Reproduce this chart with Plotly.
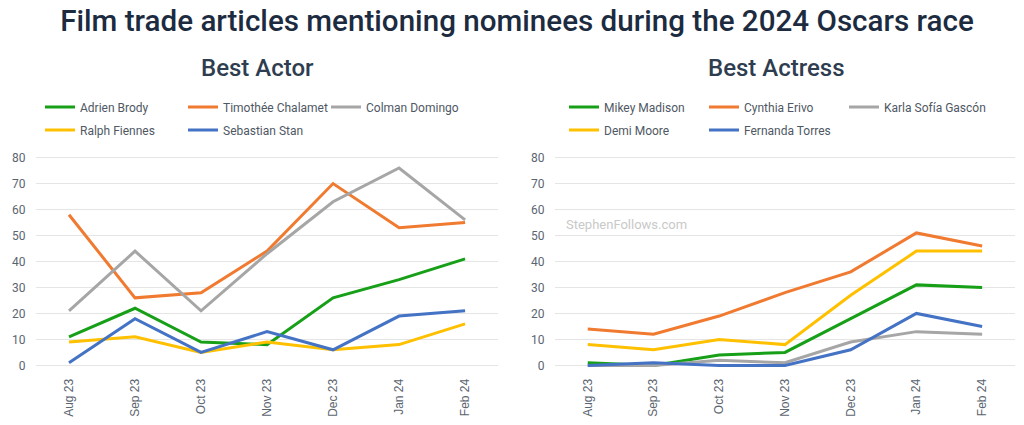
import plotly.graph_objects as go

months = ["Aug 23", "Sep 23", "Oct 23", "Nov 23", "Dec 23", "Jan 24", "Feb 24"]

# Best Actor
actor_names = ["Adrien Brody", "Timothée Chalamet", "Colman Domingo", "Ralph Fiennes", "Sebastian Stan"]
brody = [11, 22, 9, 8, 26, 33, 41]
chalamet = [58, 26, 28, 44, 70, 53, 55]
domingo = [21, 44, 21, 43, 63, 76, 56]
fiennes = [9, 11, 5, 9, 6, 8, 16]
stan = [1, 18, 5, 13, 6, 19, 21]

# Best Actress
actress_names = ["Mikey Madison", "Cynthia Erivo", "Karla Sofía Gascón", "Demi Moore", "Fernanda Torres"]
madison = [1, 0, 4, 5, 18, 31, 30]
erivo = [14, 12, 19, 28, 36, 51, 46]
gascon = [0, 0, 2, 1, 9, 13, 12]
moore = [8, 6, 10, 8, 27, 44, 44]
torres = [0, 1, 0, 0, 6, 20, 15]

colors = ["#17a017", "#f07a30", "#a6a6a6", "#ffc000", "#4472c4"]
y_ticks = [0, 10, 20, 30, 40, 50, 60, 70, 80]

actor_series = [brody, chalamet, domingo, fiennes, stan]
actress_series = [madison, erivo, gascon, moore, torres]

fig = go.Figure()

# legend assignment: first 3 entries in row 1, last 2 in row 2
left_legends = ["legend", "legend", "legend", "legend2", "legend2"]
right_legends = ["legend3", "legend3", "legend5", "legend4", "legend4"]

for name, vals, col, lg in zip(actor_names, actor_series, colors, left_legends):
    fig.add_trace(go.Scatter(x=months, y=vals, name=name, mode="lines",
                             line=dict(color=col, width=3), xaxis="x", yaxis="y",
                             legend=lg, hoverinfo="skip"))
for name, vals, col, lg in zip(actress_names, actress_series, colors, right_legends):
    fig.add_trace(go.Scatter(x=months, y=vals, name=name, mode="lines",
                             line=dict(color=col, width=3), xaxis="x2", yaxis="y2",
                             legend=lg, hoverinfo="skip"))

tick_font = dict(family="Roboto, Arial", size=12, color="#5b6570")
xtick_font = dict(family="Liberation Sans, Arial", size=12, color="#5b6570")
axis_common = dict(range=[-0.5, 6.5], type="category", showgrid=False, zeroline=False,
                   showline=False, tickangle=-90, tickfont=xtick_font,
                   ticks="outside", ticklen=5, tickcolor="rgba(0,0,0,0)", automargin=False)
yaxis_common = dict(range=[-1, 81], tickvals=y_ticks, showgrid=True, gridcolor="#e5e5e5",
                    gridwidth=1, zeroline=False, showline=False, tickfont=tick_font,
                    ticks="outside", ticklen=7, tickcolor="rgba(0,0,0,0)", automargin=False)

legend_font = dict(family="Roboto, Arial", size=12, color="#4f5864")
legend_common = dict(orientation="h", xref="container", yref="container",
                     xanchor="left", yanchor="middle",
                     font=legend_font,
                     bgcolor="rgba(0,0,0,0)", borderwidth=0, traceorder="normal",
                     itemclick=False, itemdoubleclick=False)

row1_y = 1 - 107 / 425
row2_y = 1 - 130 / 425

fig.update_layout(
    width=1024, height=425,
    margin=dict(l=36, r=9, t=155, b=57),
    paper_bgcolor="white", plot_bgcolor="white",
    title=dict(text="Film trade articles mentioning nominees during the 2024 Oscars race",
               x=517 / 1024, xref="container", xanchor="center",
               y=1 - 21 / 425, yref="container", yanchor="middle",
               font=dict(family="Roboto, Arial", size=29.6, color="#1c2b40", weight=500)),
    xaxis=dict(domain=[0, 0.472], anchor="y", **axis_common),
    yaxis=dict(anchor="x", **yaxis_common),
    xaxis2=dict(domain=[0.530, 1], anchor="y2", **axis_common),
    yaxis2=dict(anchor="x2", **yaxis_common),
    legend=dict(x=40 / 1024, y=row1_y, entrywidth=98, entrywidthmode="pixels", **legend_common),
    legend2=dict(x=40 / 1024, y=row2_y, entrywidth=98, entrywidthmode="pixels", **legend_common),
    legend3=dict(x=564 / 1024, y=row1_y, entrywidth=95, entrywidthmode="pixels", **legend_common),
    legend4=dict(x=564 / 1024, y=row2_y, entrywidth=95, entrywidthmode="pixels", **legend_common),
    legend5=dict(x=844 / 1024, y=row1_y, **legend_common),
    showlegend=True,
)

sub_font = dict(family="Roboto, Arial", size=24, color="#2e3d4f", weight=500)
fig.add_annotation(text="Best Actor", xref="paper", yref="paper", x=(257 - 36) / 979,
                   y=(368 - 68) / 213, xanchor="center", yanchor="middle",
                   showarrow=False, font=sub_font)
fig.add_annotation(text="Best Actress", xref="paper", yref="paper", x=(776 - 36) / 979,
                   y=(368 - 68) / 213, xanchor="center", yanchor="middle",
                   showarrow=False, font=sub_font)
fig.add_annotation(text="StephenFollows.com", xref="paper", yref="paper", x=(564 - 36) / 979,
                   y=(368 - 224) / 213, xanchor="left", yanchor="middle",
                   showarrow=False, font=dict(family="Roboto, Arial", size=13, color="#c9c9c9"))

fig.write_html("out.html")
